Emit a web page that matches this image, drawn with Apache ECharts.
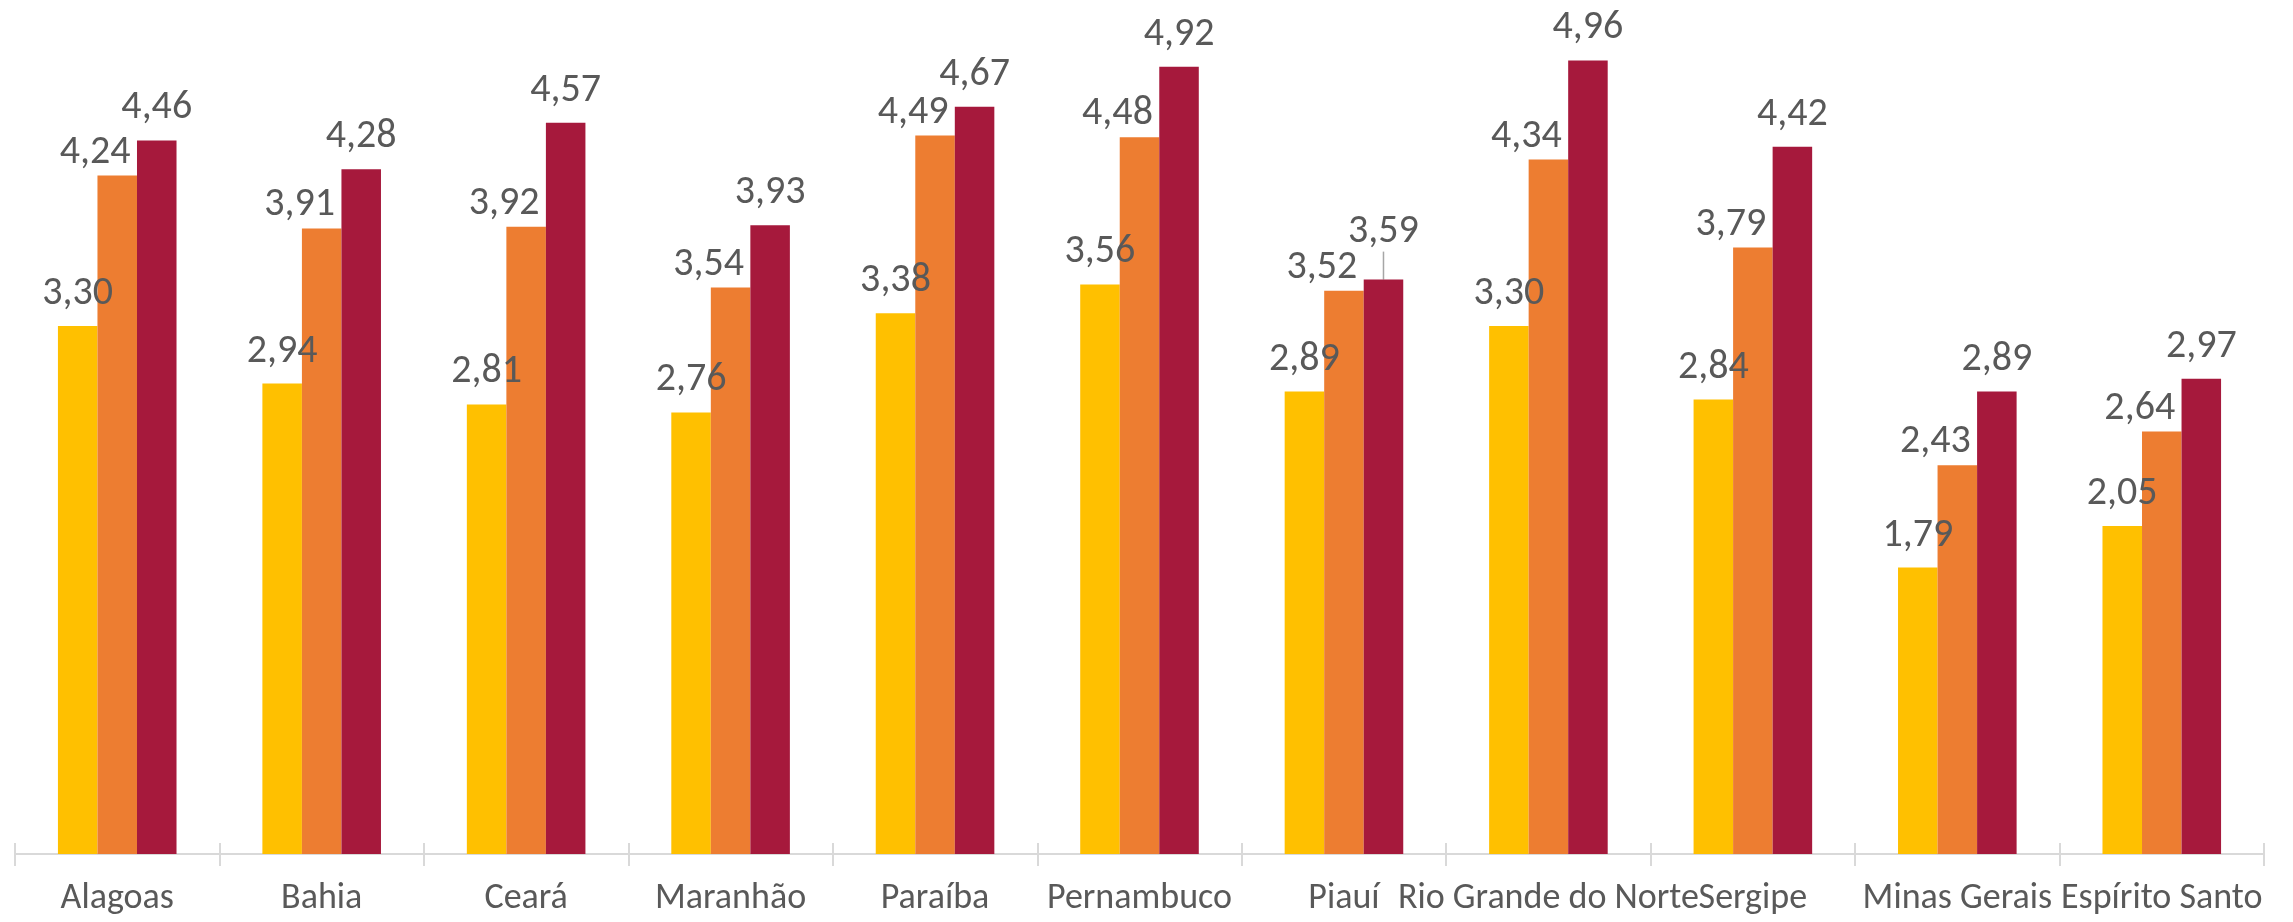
<!DOCTYPE html>
<html>
<head>
<meta charset="utf-8">
<script src="https://cdn.jsdelivr.net/npm/echarts@6/dist/echarts.min.js"></script>
<style>html,body{margin:0;padding:0;background:#fff}#c{width:2293px;height:922px}</style>
</head>
<body>
<div id="c"></div>
<script>
const categories = ['Alagoas','Bahia','Ceará','Maranhão','Paraíba','Pernambuco','Piauí','Rio Grande do Norte','Sergipe','Minas Gerais','Espírito Santo'];
const seriesA = [3.30, 2.94, 2.81, 2.76, 3.38, 3.56, 2.89, 3.30, 2.84, 1.79, 2.05];
const seriesB = [4.24, 3.91, 3.92, 3.54, 4.49, 4.48, 3.52, 4.34, 3.79, 2.43, 2.64];
const seriesC = [4.46, 4.28, 4.57, 3.93, 4.67, 4.92, 3.59, 4.96, 4.42, 2.89, 2.97];
const colors = ['#FFC000', '#ED7D31', '#A6193C'];

const FONT = "'Carlito','Calibri','Open Sans',sans-serif";
const fmt = p => p.value.toFixed(2).replace('.', ',');

function mkSeries(data, color, extraLabel) {
  return {
    type: 'bar',
    data: data,
    barGap: '0%',
    barCategoryGap: '42%',
    itemStyle: { color: color },
    label: Object.assign({
      show: true, position: 'top', distance: 12,
      formatter: fmt, color: '#595959', fontSize: 40, fontFamily: FONT
    }, extraLabel || {}),
    labelLine: { show: false },
    emphasis: { disabled: true }
  };
}

const sC = mkSeries(seriesC.map((v, i) => i === 6
  ? { value: v, labelLine: { show: true, lineStyle: { color: '#A6A6A6', width: 1.5 } } }
  : v), colors[2]);
sC.labelLayout = function (p) {
  if (p.seriesIndex === 2 && p.dataIndex === 6) return { dy: -16 };
  return {};
};

const option = {
  animation: false,
  grid: { left: 15, right: 29, top: 54, bottom: 68, containLabel: false },
  xAxis: [{
    type: 'category', data: categories,
    axisLine: { lineStyle: { color: '#D9D9D9', width: 2 } },
    axisTick: { show: true, length: 12, lineStyle: { color: '#D9D9D9', width: 2 } },
    axisLabel: { interval: 0, hideOverlap: false, color: '#595959', fontSize: 36, fontFamily: FONT, margin: 27 }
  }, {
    type: 'category', data: categories, position: 'bottom',
    axisLine: { show: false },
    axisTick: { show: true, inside: true, length: 11, lineStyle: { color: '#D9D9D9', width: 2 } },
    axisLabel: { show: false }
  }],
  yAxis: { type: 'value', min: 0, max: 5, show: false, splitLine: { show: false } },
  series: [
    mkSeries(seriesA, colors[0]),
    mkSeries(seriesB, colors[1], { offset: [-22, 9] }),
    sC
  ]
};
echarts.init(document.getElementById('c')).setOption(option);
</script>
</body>
</html>
